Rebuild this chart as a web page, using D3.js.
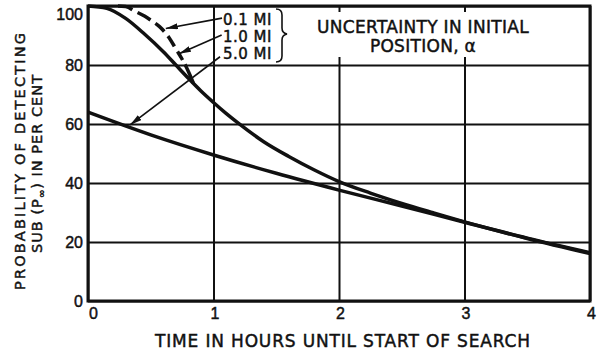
<!DOCTYPE html>
<html>
<head>
<meta charset="utf-8">
<script src="https://cdn.jsdelivr.net/npm/d3@7"></script>
<style>
  body { margin: 0; background: #fff; }
  svg { display: block; font-family: "DejaVu Sans", sans-serif; }
  text { fill: #111; stroke: #111; stroke-width: 0.45px; }
</style>
</head>
<body>
<svg id="chart" width="600" height="352"></svg>
<script>
const hours1mi = [0, 0.15, 0.3, 0.45, 0.6, 0.7, 0.8, 0.9, 1.0, 1.1, 1.2, 1.4, 1.6, 1.8, 2.0, 2.25, 2.5, 2.75, 3.0, 3.5, 4.0];
const pct1mi   = [100, 99.2, 95.8, 90.5, 84.5, 80, 75.5, 71.2, 67.3, 63.6, 60.2, 54, 49, 44.5, 40.5, 36.6, 33.1, 29.9, 26.8, 21.2, 16.1];

const hours01mi = [0, 0.24, 0.3, 0.38, 0.45, 0.52, 0.57, 0.65, 0.7, 0.74, 0.78, 0.84];
const pct01mi   = [100, 100, 99.8, 98.1, 96.6, 94.6, 93, 89, 85.5, 82.7, 79.6, 73.8];

const hours5mi = [0, 0.5, 1, 1.5, 2, 2.5, 3, 3.5, 4];
const pct5mi   = [64, 56.3, 49.5, 43.3, 37.6, 32.2, 26.7, 21.3, 16.4];

const xTicks = [0, 1, 2, 3, 4];
const yTicks = [0, 20, 40, 60, 80, 100];

const legendLabels = ["0.1 MI", "1.0 MI", "5.0 MI"];
// arrow start (at label) and tip (on curve), in hours / per cent
const arrowFrom = [[1.068, 95.9], [1.065, 90.2], [1.052, 82.8]];
const arrowTo   = [[0.62, 92.4], [0.725, 83.8], [0.335, 59.7]];

const boxTitle = ["UNCERTAINTY IN INITIAL", "POSITION, α"];
const xTitle = "TIME IN HOURS UNTIL START OF SEARCH";
const yTitle1 = "PROBABILITY OF DETECTING";

let svg = d3.select("#chart");
let ink = "#111";

let x = d3.scaleLinear().domain([0, 4]).range([88, 590]);
let y = d3.scaleLinear().domain([0, 100]).range([301, 6]);

// grid via axes
let gx = svg.append("g")
  .attr("transform", "translate(0," + y(0) + ")")
  .call(d3.axisBottom(x).tickValues(xTicks).tickFormat(d3.format("d"))
    .tickSize(-(y(0) - y(100))).tickPadding(7));
gx.select(".domain").remove();
gx.selectAll("line").attr("stroke", ink).attr("stroke-width", 2);
gx.selectAll("text").attr("font-size", 16).attr("fill", ink)
  .attr("dx", d => d === 0 ? 5 : 1);

let gy = svg.append("g")
  .attr("transform", "translate(" + x(0) + ",0)")
  .call(d3.axisLeft(y).tickValues(yTicks).tickSize(-(x(4) - x(0))).tickPadding(5));
gy.select(".domain").remove();
gy.selectAll("line").attr("stroke", ink).attr("stroke-width", 2);
gy.selectAll("text").attr("font-size", 16).attr("fill", ink)
  .attr("dy", d => d === 100 ? "0.82em" : "0.36em");

// white panel for the box title, cuts the 2 and 3 gridlines
svg.append("rect")
  .attr("x", x(1.73)).attr("y", 12)
  .attr("width", x(3.65) - x(1.73)).attr("height", 45)
  .attr("fill", "#fff");

svg.selectAll("text.boxtitle")
  .data(boxTitle)
  .enter().append("text")
  .attr("class", "boxtitle")
  .attr("x", 423)
  .attr("y", (d, i) => 33 + i * 19)
  .attr("text-anchor", "middle")
  .attr("font-size", 17)
  .attr("letter-spacing", 0.3)
  .text(d => d);

// frame
svg.append("rect")
  .attr("x", x(0)).attr("y", y(100))
  .attr("width", x(4) - x(0)).attr("height", y(0) - y(100))
  .attr("fill", "none").attr("stroke", ink).attr("stroke-width", 3);

let line = d3.line()
  .x(d => x(d[0]))
  .y(d => y(d[1]))
  .curve(d3.curveMonotoneX);

svg.append("path")
  .datum(d3.zip(hours5mi, pct5mi))
  .attr("d", line)
  .attr("fill", "none").attr("stroke", ink).attr("stroke-width", 3.5);

svg.append("path")
  .datum(d3.zip(hours1mi, pct1mi))
  .attr("d", line)
  .attr("fill", "none").attr("stroke", ink).attr("stroke-width", 3.5);

svg.append("path")
  .datum(d3.zip(hours01mi, pct01mi))
  .attr("d", line)
  .attr("fill", "none").attr("stroke", ink).attr("stroke-width", 3.5)
  .attr("stroke-dasharray", "0,30,15,6,15,6,12,6,12,6,10,5,10");

// arrows
svg.append("defs").append("marker")
  .attr("id", "head")
  .attr("viewBox", "0 0 12 6")
  .attr("refX", 12).attr("refY", 3)
  .attr("markerUnits", "userSpaceOnUse")
  .attr("markerWidth", 12).attr("markerHeight", 6)
  .attr("orient", "auto")
  .append("path")
  .attr("d", "M0,0 L12,3 L0,6 Z")
  .attr("fill", ink);

svg.selectAll("line.arrow")
  .data(d3.zip(arrowFrom, arrowTo))
  .enter().append("line")
  .attr("class", "arrow")
  .attr("x1", d => x(d[0][0])).attr("y1", d => y(d[0][1]))
  .attr("x2", d => x(d[1][0])).attr("y2", d => y(d[1][1]))
  .attr("stroke", ink).attr("stroke-width", 1.6)
  .attr("marker-end", "url(#head)");

svg.selectAll("text.legend")
  .data(legendLabels)
  .enter().append("text")
  .attr("class", "legend")
  .attr("x", 223)
  .attr("y", (d, i) => [24.5, 41.5, 59][i])
  .attr("font-size", 15)
  .attr("letter-spacing", 0.5)
  .text(d => d);

// brace
svg.append("path")
  .attr("d", "M276,9 Q282,9 282,15 L282,28 Q282,33 287,34 Q282,35 282,40 L282,56 Q282,62 276,62")
  .attr("fill", "none").attr("stroke", ink).attr("stroke-width", 1.6);

// axis titles
svg.append("text")
  .attr("x", 342.5).attr("y", 347)
  .attr("text-anchor", "middle")
  .attr("font-size", 17)
  .attr("textLength", 375).attr("lengthAdjust", "spacing")
  .text(xTitle);

svg.append("text")
  .attr("transform", "translate(25,161.5) rotate(-90)")
  .attr("text-anchor", "middle")
  .attr("font-size", 14.5)
  .attr("textLength", 257).attr("lengthAdjust", "spacing")
  .text(yTitle1);

let t2 = svg.append("text")
  .attr("transform", "translate(42,164) rotate(-90)")
  .attr("text-anchor", "middle")
  .attr("font-size", 14.5)
  .attr("textLength", 178).attr("lengthAdjust", "spacing");
t2.append("tspan").text("SUB (P");
t2.append("tspan").attr("font-size", 10).attr("dy", 3).text("∞");
t2.append("tspan").attr("dy", -3).text(") IN PER CENT");
</script>
</body>
</html>
